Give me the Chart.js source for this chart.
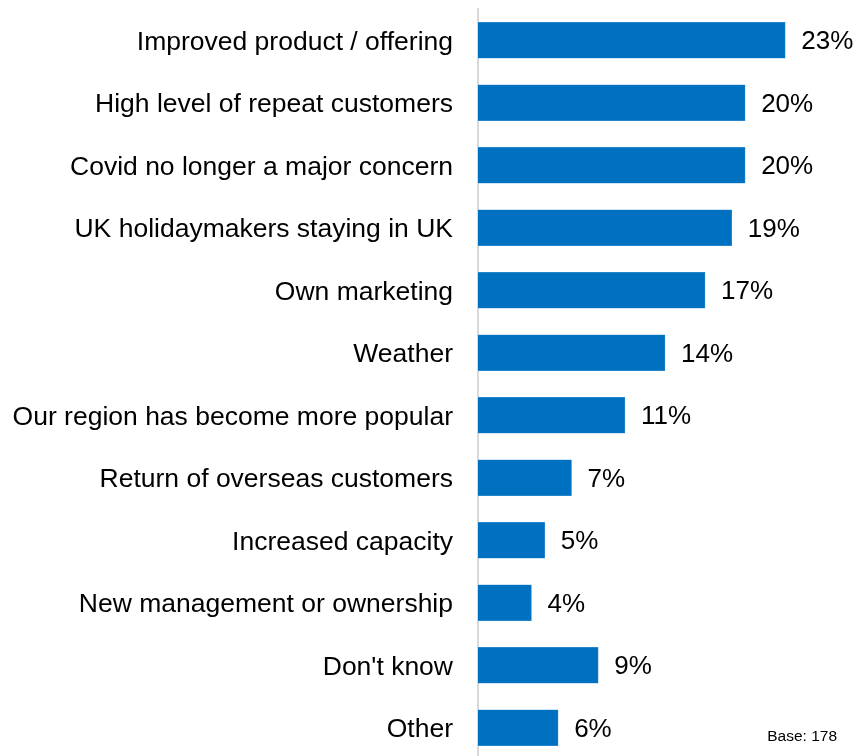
<!DOCTYPE html>
<html>
<head>
<meta charset="utf-8">
<script src="https://cdn.jsdelivr.net/npm/chart.js@4.4.1/dist/chart.umd.min.js"></script>
<style>
  html, body { margin: 0; padding: 0; background: #fff; overflow: hidden; }
  #wrap { width: 856px; height: 756px; overflow: hidden; }
</style>
</head>
<body>
<div id="wrap"><canvas id="grafico" width="856" height="759"></canvas></div>
<script>
const categorias = [
    'Improved product / offering',
    'High level of repeat customers',
    'Covid no longer a major concern',
    'UK holidaymakers staying in UK',
    'Own marketing',
    'Weather',
    'Our region has become more popular',
    'Return of overseas customers',
    'Increased capacity',
    'New management or ownership',
    "Don't know",
    'Other'
];
const percentuais = [23, 20, 20, 19, 17, 14, 11, 7, 5, 4, 9, 6];
const textoBase = 'Base: 178';

const fonte = 'Arial, "Liberation Sans", sans-serif';

// escreve o valor de cada barra logo depois do fim dela
const rotulosValores = {
    id: 'rotulosValores',
    afterDatasetsDraw(chart) {
        const ctx = chart.ctx;
        const meta = chart.getDatasetMeta(0);
        ctx.save();
        ctx.font = '26px ' + fonte;
        ctx.fillStyle = '#000';
        ctx.textAlign = 'left';
        ctx.textBaseline = 'middle';
        meta.data.forEach((barra, i) => {
            ctx.fillText(percentuais[i] + '%', barra.x + 16, barra.y + 2);
        });
        ctx.restore();
    }
};

const notaBase = {
    id: 'notaBase',
    afterDraw(chart) {
        const ctx = chart.ctx;
        ctx.save();
        ctx.font = '15.5px ' + fonte;
        ctx.fillStyle = '#000';
        ctx.textAlign = 'right';
        ctx.textBaseline = 'alphabetic';
        ctx.fillText(textoBase, 837, 741);
        ctx.restore();
    }
};

new Chart(document.getElementById('grafico').getContext('2d'), {
    type: 'bar',
    data: {
        labels: categorias,
        datasets: [{
            data: percentuais,
            backgroundColor: '#0070c0',
            borderColor: '#4a9ad6',
            borderWidth: 0.6,
            borderSkipped: 'left',
            barThickness: 36
        }]
    },
    options: {
        indexAxis: 'y',
        responsive: false,
        animation: false,
        layout: { padding: { top: 9, right: 4, bottom: 0, left: 0 } },
        plugins: {
            legend: { display: false },
            tooltip: { enabled: false }
        },
        scales: {
            x: {
                min: 0,
                max: 28,
                display: false
            },
            y: {
                afterFit(escala) {
                    escala.width = 478;
                    escala.paddingTop = 0;
                    escala.paddingBottom = 0;
                },
                grid: { display: false, drawTicks: false },
                border: { display: true, color: '#d9d9d9', width: 2 },
                ticks: {
                    padding: 25,
                    labelOffset: 2,
                    color: '#000',
                    font: { family: fonte, size: 26.5 }
                }
            }
        }
    },
    plugins: [rotulosValores, notaBase]
});
</script>
</body>
</html>
